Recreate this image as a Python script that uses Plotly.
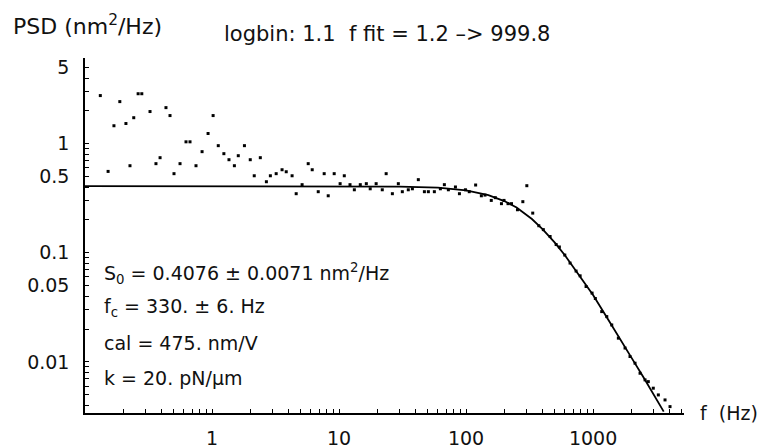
import plotly.graph_objects as go
import math

# ---- data ----
freq_hz = [0.132, 0.152, 0.169, 0.188, 0.210, 0.226, 0.242, 0.262, 0.280, 0.325,
           0.362, 0.390, 0.434, 0.467, 0.502, 0.560, 0.624, 0.671, 0.748, 0.835,
           0.931, 1.02, 1.12, 1.24, 1.36, 1.50, 1.61, 1.80, 2.00, 2.15,
           2.40, 2.68, 2.88, 3.20, 3.56, 3.84, 4.27, 4.60, 5.12, 5.72,
           6.15, 6.86, 7.64, 8.22, 9.16, 10.2, 11.0, 12.2, 13.2, 14.7,
           16.4, 17.6, 19.6, 21.9, 23.5, 26.3, 29.3, 31.5, 35.1, 37.8,
           42.1, 47.0, 50.5, 56.3, 62.8, 67.5, 72.6, 82.5, 88.7, 98.9,
           106, 119, 132, 141, 158, 170, 190, 199, 214, 228,
           254, 280, 301, 335, 374, 406, 459, 512, 543, 599,
           659, 735, 791, 881, 982, 1042, 1170, 1282, 1403, 1582,
           1786, 1954, 2140, 2344, 2566, 2723, 2980, 3266, 3687, 4036]
psd_nm2 = [2.76, 0.557, 1.46, 2.43, 1.53, 0.628, 1.73, 2.87, 2.87, 1.97,
           0.656, 0.744, 2.14, 1.81, 0.531, 0.656, 1.04, 1.04, 0.628, 0.845,
           1.24, 1.81, 0.959, 0.810, 0.713, 0.628, 0.776, 0.959, 0.713, 0.508,
           0.744, 0.448, 0.508, 0.531, 0.577, 0.553, 0.508, 0.348, 0.421, 0.656,
           0.577, 0.363, 0.531, 0.333, 0.531, 0.430, 0.508, 0.421, 0.378, 0.421,
           0.430, 0.386, 0.430, 0.378, 0.531, 0.348, 0.430, 0.363, 0.378, 0.386,
           0.468, 0.363, 0.363, 0.363, 0.386, 0.421, 0.378, 0.401, 0.348, 0.378,
           0.363, 0.418, 0.333, 0.338, 0.302, 0.320, 0.282, 0.302, 0.282, 0.282,
           0.248, 0.294, 0.412, 0.231, 0.177, 0.163, 0.141, 0.119, 0.113, 0.0953,
           0.0805, 0.0680, 0.0615, 0.0491, 0.0427, 0.0381, 0.0289, 0.0260, 0.0218, 0.0165,
           0.0134, 0.0112, 0.00973, 0.00787, 0.00684, 0.00659, 0.00574, 0.00498, 0.00448, 0.00389]

fit_freq_hz = [0.1, 1, 10, 30, 60, 100, 150, 200, 250, 300, 330, 400, 500, 600,
               800, 1000, 1300, 1600, 2000, 2500, 3000, 3600]
fit_psd_nm2 = [0.408, 0.408, 0.407, 0.404, 0.395, 0.373, 0.338, 0.298, 0.260, 0.223,
               0.204, 0.165, 0.124, 0.095, 0.059, 0.041, 0.025, 0.017, 0.011, 0.0072,
               0.0050, 0.0035]

x_tick_vals = [1, 10, 100, 1000]
x_tick_text = ["1", "10", "100", "1000"]
y_tick_vals = [0.01, 0.05, 0.1, 0.5, 1, 5]
y_tick_text = ["0.01", "0.05", "0.1", "0.5", "1", "5"]

# all tick positions (labelled majors plus unlabelled minors)
x_all = sorted(set([round(m * 10 ** e, 6) for e in range(-1, 4) for m in range(1, 10)
                    if 0.1 < m * 10 ** e <= 5200]))
x_all_text = [x_tick_text[x_tick_vals.index(v)] if v in x_tick_vals else "" for v in x_all]
y_all = sorted(set([round(m * 10 ** e, 6) for e in range(-3, 1) for m in range(1, 10)
                    if 0.0034 <= m * 10 ** e <= 6.1]))
y_all_text = [y_tick_text[y_tick_vals.index(v)] if v in y_tick_vals else "" for v in y_all]

FONT = "DejaVu Sans, Liberation Sans, Arial, sans-serif"

fig = go.Figure()
fig.add_trace(go.Scatter(x=fit_freq_hz, y=fit_psd_nm2, mode="lines",
                         line=dict(color="black", width=1.8), hoverinfo="skip"))
fig.add_trace(go.Scatter(x=freq_hz, y=psd_nm2, mode="markers",
                         marker=dict(symbol="square", size=3, color="black", line=dict(width=0))))

axis_common = dict(type="log", showgrid=False, zeroline=False, showline=True,
                   linecolor="black", linewidth=1.5, mirror=False, automargin=False,
                   ticks="inside", ticklen=4, tickwidth=1, tickcolor="black",
                   tickfont=dict(family=FONT, size=19, color="#111"))

fig.update_xaxes(**axis_common, range=[-1, math.log10(5200)],
                 tickmode="array", tickvals=x_all, ticktext=x_all_text,
                 ticklabelstandoff=7)
fig.update_yaxes(**axis_common, range=[math.log10(0.0034), math.log10(6.1)],
                 tickmode="array", tickvals=y_all, ticktext=y_all_text,
                 ticklabelstandoff=10)

ann_font = dict(family=FONT, size=19, color="#111")
annotations = [
    dict(text="PSD (nm<sup>2</sup>/Hz)", x=-0.123, y=1.093, xanchor="left", yanchor="middle",
         font=dict(family=FONT, size=22, color="#111")),
    dict(text="logbin: 1.1  f fit = 1.2 –> 999.8", x=0.504, y=1.068, xanchor="center", yanchor="middle",
         font=dict(family=FONT, size=21, color="#111")),
    dict(text="S<sub>0</sub> = 0.4076 ± 0.0071 nm<sup>2</sup>/Hz", x=0.0284, y=0.394, xanchor="left", yanchor="middle"),
    dict(text="f<sub>c</sub> = 330. ± 6. Hz", x=0.0284, y=0.296, xanchor="left", yanchor="middle"),
    dict(text="cal = 475. nm/V", x=0.0284, y=0.197, xanchor="left", yanchor="middle"),
    dict(text="k = 20. pN/μm", x=0.0284, y=0.0986, xanchor="left", yanchor="middle"),
    dict(text="f  (Hz)", x=1.023, y=0.0, xanchor="left", yanchor="middle"),
]
for a in annotations:
    a.update(xref="paper", yref="paper", showarrow=False)
    a.setdefault("font", ann_font)

fig.update_layout(width=760, height=448, margin=dict(l=85, r=76, t=58, b=35),
                  paper_bgcolor="white", plot_bgcolor="white", showlegend=False,
                  annotations=annotations)

fig.write_html("out.html")
